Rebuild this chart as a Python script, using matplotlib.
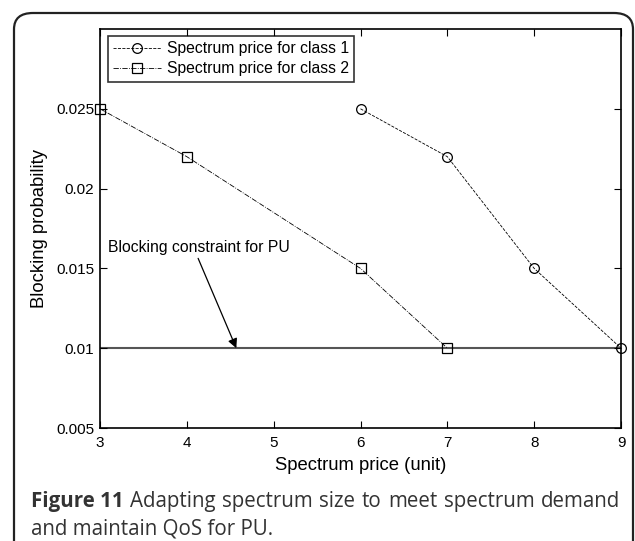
import matplotlib
matplotlib.use("Agg")
import matplotlib.pyplot as plt
from matplotlib.patches import FancyBboxPatch

# ---- data ----
price_class1 = [6, 7, 8, 9]
block_class1 = [0.025, 0.022, 0.015, 0.01]
price_class2 = [3, 4, 6, 7]
block_class2 = [0.025, 0.022, 0.015, 0.01]
constraint_x = [3, 9]
constraint_y = [0.01, 0.01]
x_ticks = [3, 4, 5, 6, 7, 8, 9]
y_ticks = [0.005, 0.01, 0.015, 0.02, 0.025]
y_tick_labels = ["0.005", "0.01", "0.015", "0.02", "0.025"]
legend_labels = ["Spectrum price for class 1", "Spectrum price for class 2"]
caption_bold = "Figure 11"
caption_line1 = "Adapting spectrum size to meet spectrum demand"
caption_line2 = "and maintain QoS for PU."

W, H = 635, 541
fig = plt.figure(figsize=(W / 100, H / 100), dpi=100)
fig.patch.set_facecolor("white")

plt.rcParams["font.family"] = ["Liberation Sans", "DejaVu Sans"]

# rounded frame
frame = FancyBboxPatch((14 / W, -0.2), (633 - 14) / W, (H - 13) / H + 0.2,
                       boxstyle="round,pad=0,rounding_size=0.03",
                       transform=fig.transFigure, fill=False,
                       edgecolor="#222222", linewidth=1.6, clip_on=False)
fig.patches.append(frame)

ax = fig.add_axes([100 / W, 1 - 428 / H, 521 / W, 399 / H])
ax.plot(constraint_x, constraint_y, color="#555555", linewidth=1.5, zorder=1)
ax.plot(price_class1, block_class1, linestyle="--", color="black", linewidth=0.6,
        marker="o", markersize=7, markerfacecolor="none", markeredgecolor="black",
        markeredgewidth=0.9, label=legend_labels[0], clip_on=False, zorder=3)
ax.plot(price_class2, block_class2, linestyle="-.", color="black", linewidth=0.6,
        marker="s", markersize=7, markerfacecolor="none", markeredgecolor="black",
        markeredgewidth=0.9, label=legend_labels[1], clip_on=False, zorder=3)

ax.set_xlim(3, 9)
ax.set_ylim(0.005, 0.03)
ax.set_xticks(x_ticks)
ax.set_xticklabels([str(v) for v in x_ticks])
ax.set_yticks(y_ticks)
ax.set_yticklabels(y_tick_labels)
ax.tick_params(direction="in", top=True, right=True, length=5, width=0.8,
               labelsize=11)
ax.tick_params(axis="x", pad=6)
ax.tick_params(axis="y", pad=4)
for s in ax.spines.values():
    s.set_linewidth(1.2)
ax.set_xlabel("Spectrum price (unit)", fontsize=13.3, labelpad=5)
ax.set_ylabel("Blocking probability", fontsize=13.3, labelpad=6)

ax.text(3.09, 0.0163, "Blocking constraint for PU", fontsize=11.3,
        ha="left", va="center")
ax.annotate("", xy=(4.57, 0.01), xytext=(4.13, 0.01563),
            arrowprops=dict(arrowstyle="-|>", color="black", lw=0.9,
                            mutation_scale=14, shrinkA=0, shrinkB=0))

leg = ax.legend(loc="upper left", bbox_to_anchor=(8 / 521, 1 - 7 / 399),
                fontsize=11.3, frameon=True, fancybox=False, edgecolor="black",
                borderpad=0.35, handlelength=3.0, handletextpad=0.4,
                labelspacing=0.3, borderaxespad=0)
leg.get_frame().set_linewidth(1.2)

# caption, justified first line
fig.canvas.draw()
r = fig.canvas.get_renderer()
cap_color = "#333333"
cap_font = ["Open Sans", "DejaVu Sans"]
left_px, right_px = 31, 620
y1 = 1 - 507 / H
y2 = 1 - 535 / H

probe_b = fig.text(0, 0, caption_bold + " ", fontsize=12, fontweight="bold",
                   family=cap_font)
probe_n = fig.text(0, 0, caption_line1, fontsize=12, family=cap_font)
nat = probe_b.get_window_extent(r).width + probe_n.get_window_extent(r).width
probe_b.remove()
probe_n.remove()
cap_size = 12 * (right_px - left_px) / nat * 0.985

words = [(caption_bold, "bold")] + [(w, "normal") for w in caption_line1.split()]
texts = []
for w, wt in words:
    t = fig.text(0, y1, w, fontsize=cap_size, fontweight=wt, color=cap_color,
                 family=cap_font, va="baseline", ha="left")
    texts.append(t)
widths = [t.get_window_extent(r).width for t in texts]
gap = (right_px - left_px - sum(widths)) / (len(widths) - 1)
x = left_px
for t, wd in zip(texts, widths):
    t.set_x(x / W)
    x += wd + gap
fig.text(left_px / W, y2, caption_line2, fontsize=cap_size, color=cap_color,
         family=cap_font, va="baseline", ha="left")

fig.savefig("out.png", dpi=100, facecolor="white")
